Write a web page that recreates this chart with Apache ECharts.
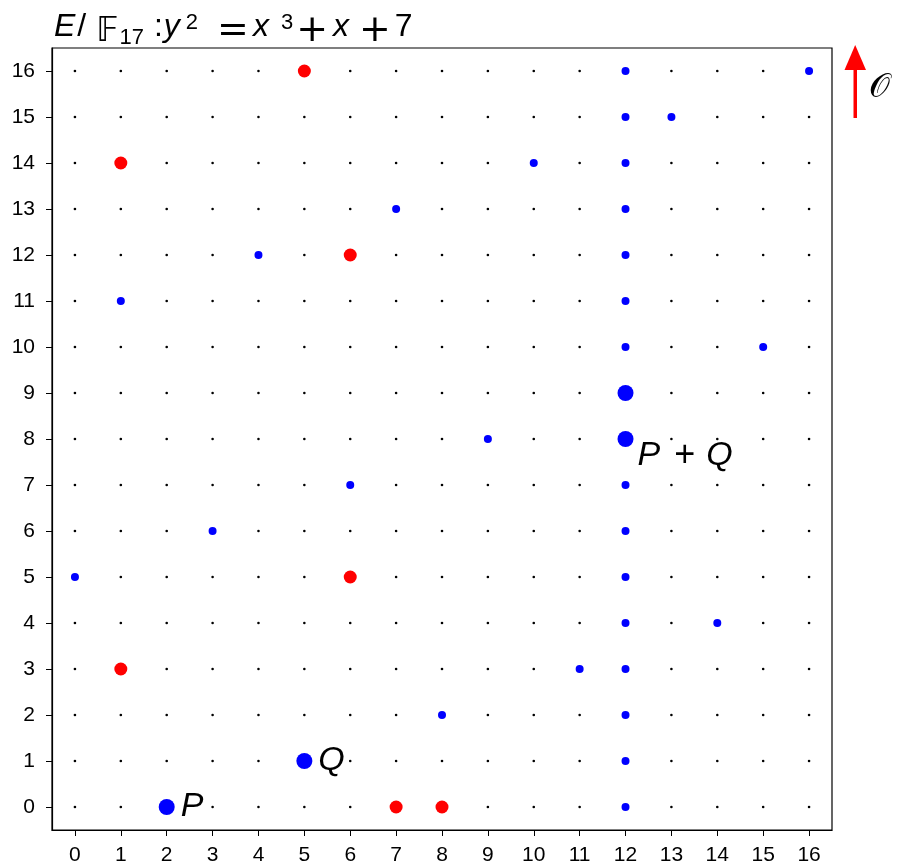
<!DOCTYPE html>
<html><head><meta charset="utf-8">
<script src="https://cdn.jsdelivr.net/npm/echarts@6/dist/echarts.min.js"></script>
<style>html,body{margin:0;padding:0;background:#fff}#c{width:898px;height:868px}</style>
</head><body><div id="c"></div>
<script>
// tick labels (categories 0..16 on both axes)
const xTicks = ['0','1','2','3','4','5','6','7','8','9','10','11','12','13','14','15','16'];
const yTicks = ['0','1','2','3','4','5','6','7','8','9','10','11','12','13','14','15','16'];
// remaining curve points
const curvePoints = [[1,3],[1,14],[5,16],[6,5],[6,12],[7,0],[8,0]];
// points on the line through P and Q (mod 17) and the vertical line x = 12
const linePQ = [[0,5],[1,11],[3,6],[4,12],[6,7],[7,13],[8,2],[9,8],[10,14],[11,3],[13,15],[14,4],[15,10],[16,16]];
const vertical12 = [[12,0],[12,1],[12,2],[12,3],[12,4],[12,5],[12,6],[12,7],[12,10],[12,11],[12,12],[12,13],[12,14],[12,15],[12,16]];
// highlighted points
const highlightPts = [[2,0],[5,1],[12,9],[12,8]];
const highlightNames = ['P','Q','','P+Q'];

const FONT = 'Liberation Sans';
const lattice = [];
xTicks.forEach((_, i) => yTicks.forEach((_, j) => lattice.push([i, j])));

const hlData = highlightPts.map((p, k) => {
  const item = { value: p, name: highlightNames[k] };
  if (k === 3) {
    item.label = { show: true, position: [20, 7], align: 'left', verticalAlign: 'top',
      formatter: '{a|P}{b|+}{a|Q}' };
  } else if (highlightNames[k]) {
    item.label = { show: true, position: 'right', distance: 6, formatter: '{a|{b}}' };
  }
  return item;
});

const base = { fontFamily: FONT, color: '#000', fontWeight: 'normal' };
const mk = (o) => Object.assign({}, base, o);
const opStyle = (pl, pr) => mk({ fontFamily: 'DejaVu Sans', fontSize: 38, lineHeight: 20, verticalAlign: 'top', padding: [5, pr, 0, pl] });
const chart = echarts.init(document.getElementById('c'), null, { renderer: 'canvas' });
chart.setOption({
  animation: false,
  backgroundColor: '#fff',
  title: {
    left: 54, top: 7, padding: 0,
    text: '{i|E}{sl|/}{bb|𝔽}{sub|17}{op|:}{i|y}{sup2|2}{eq|=}{i|x}{sup3|3}{pl1|+}{i|x}{pl2|+}{n|7}',
    textStyle: {
      fontWeight: 'normal',
      rich: {
        i: mk({ fontSize: 32, fontStyle: 'italic', lineHeight: 36, verticalAlign: 'bottom' }),
        n: mk({ fontSize: 32, lineHeight: 36, verticalAlign: 'bottom' }),
        sl: mk({ fontSize: 32, lineHeight: 36, verticalAlign: 'bottom', padding: [0, 10, 0, 2] }),
        bb: mk({ fontFamily: 'DejaVu Sans', fontSize: 33, lineHeight: 20, verticalAlign: 'top', padding: [9, 0, 0, 0] }),
        op: mk({ fontSize: 32, lineHeight: 36, verticalAlign: 'bottom', padding: [0, 1, 0, 10] }),
        eq: opStyle(19, 4),
        pl1: opStyle(3, 5),
        pl2: opStyle(10, 4),
        sub: mk({ fontSize: 22, lineHeight: 10, verticalAlign: 'top', padding: [20, 0, 0, 1] }),
        sup2: mk({ fontSize: 22, lineHeight: 24, verticalAlign: 'top', padding: [5, 0, 0, 6] }),
        sup3: mk({ fontSize: 22, lineHeight: 24, verticalAlign: 'top', padding: [5, 0, 0, 12] })
      }
    }
  },
  grid: { left: 52, right: 66, top: 48, bottom: 38, show: true, borderColor: '#000', borderWidth: 1.2, containLabel: false },
  xAxis: {
    type: 'category', data: xTicks, boundaryGap: true,
    axisLine: { show: true, lineStyle: { color: '#000', width: 1.2 } },
    axisTick: { show: true, alignWithLabel: true, length: 6, lineStyle: { color: '#000' } },
    axisLabel: { color: '#000', fontFamily: FONT, fontSize: 21, margin: 15, interval: 0 },
    splitLine: { show: false }
  },
  yAxis: {
    type: 'category', data: yTicks, boundaryGap: true,
    axisLine: { show: true, lineStyle: { color: '#000', width: 1.2 } },
    axisTick: { show: true, alignWithLabel: true, length: 6, lineStyle: { color: '#000' } },
    axisLabel: { color: '#000', fontFamily: FONT, fontSize: 21, margin: 17, interval: 0 },
    splitLine: { show: false }
  },
  series: [
    { type: 'scatter', data: lattice, symbol: 'circle', symbolSize: 2.6, itemStyle: { color: '#000', opacity: 1 }, silent: true },
    { type: 'scatter', data: curvePoints, symbol: 'circle', symbolSize: 13, itemStyle: { color: '#ff0000', opacity: 1 } },
    { type: 'scatter', data: linePQ.concat(vertical12), symbol: 'circle', symbolSize: 8, itemStyle: { color: '#0000ff', opacity: 1 } },
    { type: 'scatter', data: hlData, symbol: 'circle', symbolSize: 16, itemStyle: { color: '#0000ff', opacity: 1 },
      label: { show: false, color: '#000', opacity: 1,
        rich: {
          a: { fontFamily: FONT, fontSize: 34, fontStyle: 'italic', color: '#000', lineHeight: 36 },
          b: { fontFamily: FONT, fontSize: 36, color: '#000', lineHeight: 36, padding: [0, 11, 0, 14] }
        } } }
  ],
  graphic: [
    { type: 'rect', shape: { x: 853.5, y: 66, width: 3.5, height: 52 }, style: { fill: '#ff0000' } },
    { type: 'polygon', shape: { points: [[844.5, 70], [866, 70], [855.2, 45]] }, style: { fill: '#ff0000' } },
    { type: 'text', x: 869, y: 72, style: { text: '𝒪', font: '33px "DejaVu Serif"', fill: '#000' } }
  ]
});
</script></body></html>
